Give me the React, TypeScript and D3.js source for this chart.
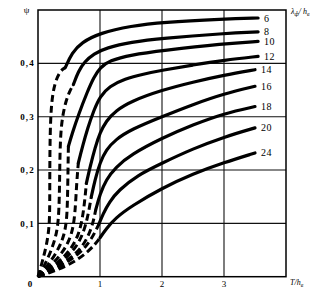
import React from "react";
import * as d3 from "d3";

type Pt = [number, number];

// λф/hв ratios (curve labels)
const ratios = [6, 8, 10, 12, 14, 16, 18, 20, 24];

// dashed (extrapolated) parts, from origin
const dashed6: Pt[] = [[0, 0], [0.07, 0.028], [0.14, 0.06], [0.185, 0.095], [0.19, 0.14], [0.19, 0.2], [0.195, 0.27], [0.215, 0.325], [0.265, 0.362], [0.355, 0.386], [0.44, 0.392]];
const dashed8: Pt[] = [[0, 0], [0.1, 0.02], [0.2, 0.045], [0.29, 0.075], [0.33, 0.105], [0.345, 0.15], [0.35, 0.2], [0.36, 0.26], [0.39, 0.298], [0.45, 0.33], [0.52, 0.35], [0.57, 0.36]];
const dashed10: Pt[] = [[0, 0], [0.15, 0.02], [0.3, 0.045], [0.42, 0.075], [0.47, 0.11], [0.48, 0.17], [0.49, 0.244]];
const dashed12: Pt[] = [[0, 0], [0.2, 0.02], [0.4, 0.045], [0.55, 0.078], [0.6, 0.12], [0.62, 0.17], [0.65, 0.213]];
const dashed14: Pt[] = [[0, 0], [0.25, 0.02], [0.5, 0.045], [0.67, 0.08], [0.74, 0.125], [0.78, 0.175]];
const dashed16: Pt[] = [[0, 0], [0.3, 0.02], [0.6, 0.05], [0.77, 0.09], [0.86, 0.15]];
const dashed18: Pt[] = [[0, 0], [0.35, 0.02], [0.7, 0.05], [0.87, 0.09], [0.93, 0.125]];
const dashed20: Pt[] = [[0, 0], [0.4, 0.02], [0.8, 0.055], [0.98, 0.098]];
const dashed24: Pt[] = [[0, 0], [0.5, 0.02], [0.85, 0.05], [1.0, 0.073]];

// solid (measured) parts
const solid6: Pt[] = [[0.44, 0.392], [0.55, 0.42], [0.7, 0.439], [1, 0.457], [1.5, 0.47], [2, 0.477], [3, 0.483], [3.55, 0.485]];
const solid8: Pt[] = [[0.57, 0.36], [0.65, 0.385], [0.75, 0.403], [0.9, 0.418], [1.1, 0.429], [1.5, 0.44], [2, 0.447], [3, 0.456], [3.55, 0.459]];
const solid10: Pt[] = [[0.49, 0.244], [0.55, 0.268], [0.65, 0.303], [0.8, 0.348], [0.9, 0.374], [1, 0.392], [1.15, 0.405], [1.5, 0.416], [2, 0.424], [3, 0.437], [3.55, 0.441]];
const solid12: Pt[] = [[0.65, 0.213], [0.72, 0.245], [0.8, 0.278], [0.9, 0.312], [1, 0.338], [1.15, 0.357], [1.4, 0.371], [1.7, 0.38], [2, 0.387], [2.5, 0.397], [3, 0.406], [3.55, 0.413]];
const solid14: Pt[] = [[0.78, 0.175], [0.84, 0.206], [0.92, 0.242], [1, 0.27], [1.1, 0.292], [1.25, 0.311], [1.5, 0.329], [2, 0.35], [2.5, 0.365], [3, 0.378], [3.5, 0.388]];
const solid16: Pt[] = [[0.86, 0.15], [0.92, 0.182], [1, 0.214], [1.1, 0.238], [1.25, 0.257], [1.5, 0.276], [2, 0.3], [2.5, 0.323], [3, 0.343], [3.5, 0.357]];
const solid18: Pt[] = [[0.93, 0.125], [1, 0.155], [1.1, 0.182], [1.25, 0.205], [1.5, 0.229], [2, 0.26], [2.5, 0.285], [3, 0.306], [3.5, 0.319]];
const solid20: Pt[] = [[0.98, 0.098], [1.05, 0.118], [1.15, 0.14], [1.3, 0.162], [1.6, 0.19], [2, 0.213], [2.5, 0.24], [3, 0.262], [3.5, 0.279]];
const solid24: Pt[] = [[1.0, 0.073], [1.1, 0.09], [1.25, 0.11], [1.5, 0.132], [2, 0.166], [2.5, 0.193], [3, 0.214], [3.5, 0.232]];

const dashedParts = [dashed6, dashed8, dashed10, dashed12, dashed14, dashed16, dashed18, dashed20, dashed24];
const solidParts = [solid6, solid8, solid10, solid12, solid14, solid16, solid18, solid20, solid24];

const xTicks = [1, 2, 3];
const xTickLabels = ["1", "2", "3"];
const yTicks = [0.1, 0.2, 0.3, 0.4];
const yTickLabels = ["0,1", "0,2", "0,3", "0,4"];

export default function App() {
  const W = 334, H = 292;
  const x = d3.scaleLinear().domain([0, 4]).range([38, 286]);
  const y = d3.scaleLinear().domain([0, 0.5]).range([276.7, 10]);

  const solidLine = d3.line<Pt>().x(d => x(d[0])).y(d => y(d[1])).curve(d3.curveBasis);
  const dashLine = d3.line<Pt>().x(d => x(d[0])).y(d => y(d[1])).curve(d3.curveBasis);

  const serif = "'Liberation Serif', 'DejaVu Serif', serif";

  return (
    <svg width={W} height={H} style={{ position: "absolute", left: 0, top: 0, background: "#fff" }}>
      {/* grid */}
      {xTicks.map(t => (
        <line key={"gx" + t} x1={x(t)} x2={x(t)} y1={y(0)} y2={y(0.5)} stroke="#111" strokeWidth={1.1} />
      ))}
      {yTicks.map(t => (
        <line key={"gy" + t} x1={x(0)} x2={x(4)} y1={y(t)} y2={y(t)} stroke="#111" strokeWidth={1.1} />
      ))}
      {/* frame */}
      <rect x={x(0)} y={y(0.5)} width={x(4) - x(0)} height={y(0) - y(0.5)} fill="none" stroke="#000" strokeWidth={1.5} />

      {/* curves */}
      {dashedParts.map((pts, i) => (
        <path key={"d" + i} d={dashLine(pts) || ""} fill="none" stroke="#000" strokeWidth={3} strokeDasharray="7 4" />
      ))}
      {solidParts.map((pts, i) => (
        <path key={"s" + i} d={solidLine(pts) || ""} fill="none" stroke="#000" strokeWidth={3.2} strokeLinecap="round" />
      ))}

      {/* curve labels */}
      {solidParts.map((pts, i) => {
        const last = pts[pts.length - 1];
        return (
          <text key={"l" + i} x={x(last[0]) + 6} y={y(last[1])} dy="0.35em" fontFamily={serif} fontSize={10} letterSpacing={0.5} fill="#000">
            {ratios[i]}
          </text>
        );
      })}

      {/* y tick labels */}
      {yTicks.map((t, i) => (
        <text key={"yl" + i} x={x(0) - 3} y={y(t)} dy="0.35em" textAnchor="end" fontFamily={serif} fontWeight="bold" fontSize={9} letterSpacing={1.2} fill="#000">
          {yTickLabels[i]}
        </text>
      ))}
      {/* x tick labels */}
      <text x={30} y={y(0)} dy="1.1em" textAnchor="middle" fontFamily={serif} fontWeight="bold" fontSize={9} fill="#000">0</text>
      {xTicks.map((t, i) => (
        <text key={"xl" + i} x={x(t)} y={y(0)} dy="1.1em" textAnchor="middle" fontFamily={serif} fontSize={9} fill="#000">
          {xTickLabels[i]}
        </text>
      ))}

      {/* axis titles */}
      <text x={26.5} y={y(0.5)} dy="0.35em" textAnchor="middle" fontFamily={serif} fontSize={9} fill="#000">ψ</text>
      <text x={290} y={y(0)} dy="1.0em" fontFamily={serif} fontStyle="italic" fontSize={8} fill="#000">
        T/h<tspan fontSize={6} dy={2}>в</tspan>
      </text>
      <text x={291} y={14} fontFamily={serif} fontStyle="italic" fontSize={8} fill="#000">
        λ<tspan fontSize={6} dy={2}>ф</tspan><tspan dy={-2}>/ h</tspan><tspan fontSize={6} dy={2}>в</tspan>
      </text>
    </svg>
  );
}
